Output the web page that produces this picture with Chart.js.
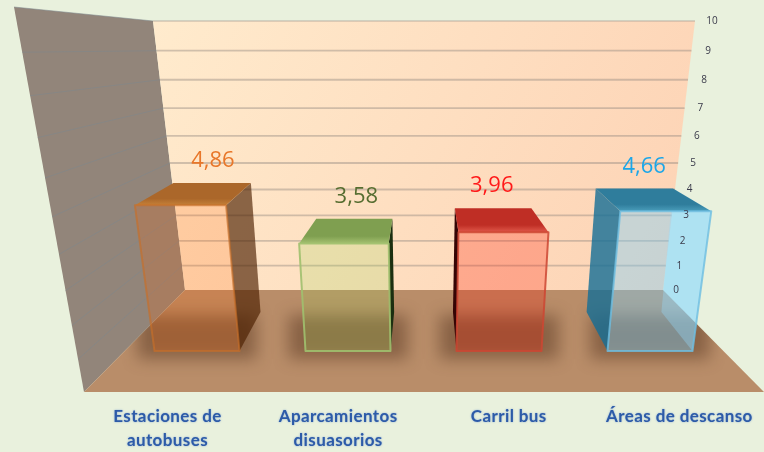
<!DOCTYPE html>
<html>
<head>
<meta charset="utf-8">
<title>Valoración</title>
<style>
  html, body { margin: 0; padding: 0; background: #e9f1dd; }
  canvas { display: block; }
</style>
<script src="https://cdn.jsdelivr.net/npm/chart.js@4/dist/chart.umd.min.js"></script>
</head>
<body>
<canvas id="chart" width="764" height="452"></canvas>
<script>
const categories = [['Estaciones de', 'autobuses'], ['Aparcamientos', 'disuasorios'], 'Carril bus', 'Áreas de descanso'];
const valores = [4.86, 3.58, 3.96, 4.66];
const valueLabels = ['4,86', '3,58', '3,96', '4,66'];
const wallTicks = [0, 10];

// look of every box, one per category
const boxStyles = [
  { front: 'rgba(253,95,0,0.2)', edge: 'rgba(200,110,40,0.65)', top: ['#ab672a', '#c58038'], right: 'rgba(75,30,0,0.65)', left: null, text: '#e8772a', nudge: 0 },
  { front: 'rgba(157,213,86,0.22)', edge: 'rgba(160,192,110,0.9)', top: ['#7f9f50', '#a4c070'], right: '#1b2f10', left: null, text: '#566d30', nudge: 3 },
  { front: 'rgba(255,20,0,0.25)', edge: 'rgba(205,70,50,0.85)', top: ['#bf2e25', '#e0584a'], right: null, left: '#350505', text: '#ff1a1a', nudge: -2 },
  { front: 'rgba(120,210,255,0.4)', edge: 'rgba(110,190,225,0.8)', top: ['#2f7d9c', '#4a9dbb'], right: 'rgba(170,225,255,0.35)', left: 'rgba(20,110,150,0.8)', text: '#1ca6e8', nudge: 10 }
];

// the room, as seen in the picture
const vanishX = 424;
const wallTop = 21, wallBottom = 290;
const floorFront = 392;
const leftWall = [[14, 7], [153, 21], [185, 290], [84, 392]];
const backWall = [[153, 21], [695, 21], [663, 290], [185, 290]];
const floorQuad = [[185, 290], [663, 290], [764, 392], [84, 392]];

// perspective squeeze of a 0..1 height going up a wall
function squeeze(t, c) { return t / (1 + c * (1 - t)); }

class WallScale extends Chart.LinearScale {
  static id = 'wallScale';
  static defaults = Chart.LinearScale.defaults;
  getPixelForValue(value) {
    const t = (value - this.min) / (this.max - this.min);
    return wallBottom - squeeze(t, 0.118) * (wallBottom - wallTop);
  }
}
Chart.register(WallScale);

function poly(ctx, pts) {
  ctx.beginPath();
  pts.forEach((p, i) => i ? ctx.lineTo(p[0], p[1]) : ctx.moveTo(p[0], p[1]));
  ctx.closePath();
}

function lerp(a, b, t) { return a + (b - a) * t; }

// left and right edge of the back wall at a given y
function wallEdges(y) {
  const t = (y - wallTop) / (wallBottom - wallTop);
  return [lerp(153, 185, t), lerp(695, 663, t)];
}

function boxGeometry(bar) {
  const h = bar.base - bar.y;
  const half = bar.width / 2;
  const s = 1 + 0.0005 * h;
  const topX = vanishX + (bar.x - vanishX) * s;
  const topHalf = half * s;
  const backTopX = vanishX + (topX - vanishX) * 0.87;
  const backTopHalf = topHalf * 0.85;
  const backTopY = bar.base - 32 - h * 0.933;
  const backX = vanishX + (bar.x - vanishX) * 0.885;
  const backHalf = half * 0.88;
  const backY = bar.base - 39;
  return {
    fbl: [bar.x - half, bar.base], fbr: [bar.x + half, bar.base],
    ftl: [topX - topHalf, bar.y], ftr: [topX + topHalf, bar.y],
    btl: [backTopX - backTopHalf, backTopY], btr: [backTopX + backTopHalf, backTopY],
    bbl: [backX - backHalf, backY], bbr: [backX + backHalf, backY],
    labelX: vanishX + (bar.x - vanishX) * 0.93,
    labelY: backTopY - 22
  };
}

const roomPlugin = {
  id: 'room',
  beforeDatasetsDraw(chart) {
    const ctx = chart.ctx;
    const wall = chart.scales.wall;
    ctx.save();

    poly(ctx, leftWall);
    ctx.fillStyle = '#92857a';
    ctx.fill();

    const g = ctx.createLinearGradient(153, 21, 695, 290);
    g.addColorStop(0, '#ffebcd');
    g.addColorStop(1, '#fdd2b4');
    poly(ctx, backWall);
    ctx.fillStyle = g;
    ctx.fill();

    poly(ctx, floorQuad);
    ctx.fillStyle = '#b98d69';
    ctx.fill();

    // grid lines on both walls
    wall.ticks.forEach((tick, i) => {
      if (tick.value === 0) return;
      const y = wall.getPixelForTick(i);
      const edges = wallEdges(y);
      ctx.beginPath();
      ctx.moveTo(edges[0], y);
      ctx.lineTo(edges[1], y);
      ctx.lineWidth = 1.8;
      ctx.strokeStyle = tick.value === 10 ? 'rgba(170,160,150,0.4)' : 'rgba(150,140,130,0.45)';
      ctx.stroke();

      const t = tick.value / 10;
      const ly = floorFront - squeeze(t, 0.198) * (floorFront - 7);
      const lx = lerp(84, 14, (floorFront - ly) / (floorFront - 7));
      ctx.beginPath();
      ctx.moveTo(lx, ly);
      ctx.lineTo(edges[0], y);
      ctx.lineWidth = 1;
      ctx.strokeStyle = 'rgba(125,135,140,0.55)';
      ctx.stroke();
    });

    // shadows lying on the floor
    ctx.save();
    poly(ctx, floorQuad);
    ctx.clip();
    ctx.filter = 'blur(8px)';
    ctx.fillStyle = 'rgba(70,38,18,0.42)';
    chart.getDatasetMeta(0).data.forEach(bar => {
      const w = bar.width * 0.7;
      ctx.fillRect(bar.x - w, bar.base - 36, w * 2, 44);
    });
    ctx.restore();
    ctx.restore();
  },
  afterDatasetsDraw(chart) {
    const ctx = chart.ctx;
    const wall = chart.scales.wall;
    ctx.save();
    ctx.lineJoin = 'round';

    chart.getDatasetMeta(0).data.forEach((bar, i) => {
      const b = boxGeometry(bar);
      const st = boxStyles[i];

      if (st.left) {
        poly(ctx, [b.btl, b.ftl, b.fbl, b.bbl]);
        ctx.fillStyle = st.left;
        ctx.fill();
      }
      if (st.right) {
        poly(ctx, [b.ftr, b.btr, b.bbr, b.fbr]);
        ctx.fillStyle = st.right;
        ctx.fill();
      }

      const tg = ctx.createLinearGradient(0, b.btl[1], 0, b.ftl[1]);
      tg.addColorStop(0, st.top[0]);
      tg.addColorStop(0.7, st.top[0]);
      tg.addColorStop(1, st.top[1]);
      poly(ctx, [b.btl, b.btr, b.ftr, b.ftl]);
      ctx.fillStyle = tg;
      ctx.fill();

      poly(ctx, [b.ftl, b.ftr, b.fbr, b.fbl]);
      ctx.fillStyle = st.front;
      ctx.fill();
      ctx.lineWidth = 2;
      ctx.strokeStyle = st.edge;
      ctx.stroke();

      ctx.font = '22px "Open Sans"';
      ctx.textAlign = 'center';
      ctx.textBaseline = 'middle';
      ctx.fillStyle = st.text;
      ctx.fillText(valueLabels[i], b.labelX + st.nudge, b.labelY);
    });

    // value axis, running along the right edge of the wall
    ctx.font = '10px "Open Sans"';
    ctx.textAlign = 'center';
    ctx.textBaseline = 'middle';
    ctx.fillStyle = '#3a3a4a';
    wall.ticks.forEach((tick, i) => {
      const y = wall.getPixelForTick(i);
      ctx.fillText(String(tick.value), wallEdges(y)[1] + 13 + tick.value * 0.4, y);
    });

    // category names
    ctx.font = 'bold 17px Lato';
    ctx.letterSpacing = '0.4px';
    ctx.fillStyle = '#2d5ba8';
    ctx.shadowColor = 'rgba(70,120,200,0.6)';
    ctx.shadowBlur = 2;
    chart.getDatasetMeta(0).data.forEach((bar, i) => {
      const lines = [].concat(categories[i]);
      const x = vanishX + (bar.x - vanishX) * 1.13;
      lines.forEach((line, k) => ctx.fillText(line, x, 417 + k * 23.5));
    });
    ctx.restore();
  }
};

new Chart(document.getElementById('chart').getContext('2d'), {
  type: 'bar',
  data: {
    labels: categories,
    datasets: [{
      label: 'Valoración',
      data: valores,
      yAxisID: 'y',
      barThickness: 85,
      backgroundColor: 'rgba(0,0,0,0)',
      borderWidth: 0
    }]
  },
  options: {
    responsive: false,
    animation: false,
    events: [],
    layout: { padding: { left: 121.5, right: 38.5, top: 21, bottom: 60 } },
    plugins: { legend: { display: false }, tooltip: { enabled: false }, title: { display: false } },
    scales: {
      x: { display: false },
      // bar heights, 30px per unit on the front plane
      y: { display: false, min: -41 / 30, max: 11 },
      wall: { type: 'wallScale', axis: 'y', display: false, min: wallTicks[0], max: wallTicks[1], ticks: { stepSize: 1, autoSkip: false } }
    }
  },
  plugins: [roomPlugin]
});
</script>
</body>
</html>
